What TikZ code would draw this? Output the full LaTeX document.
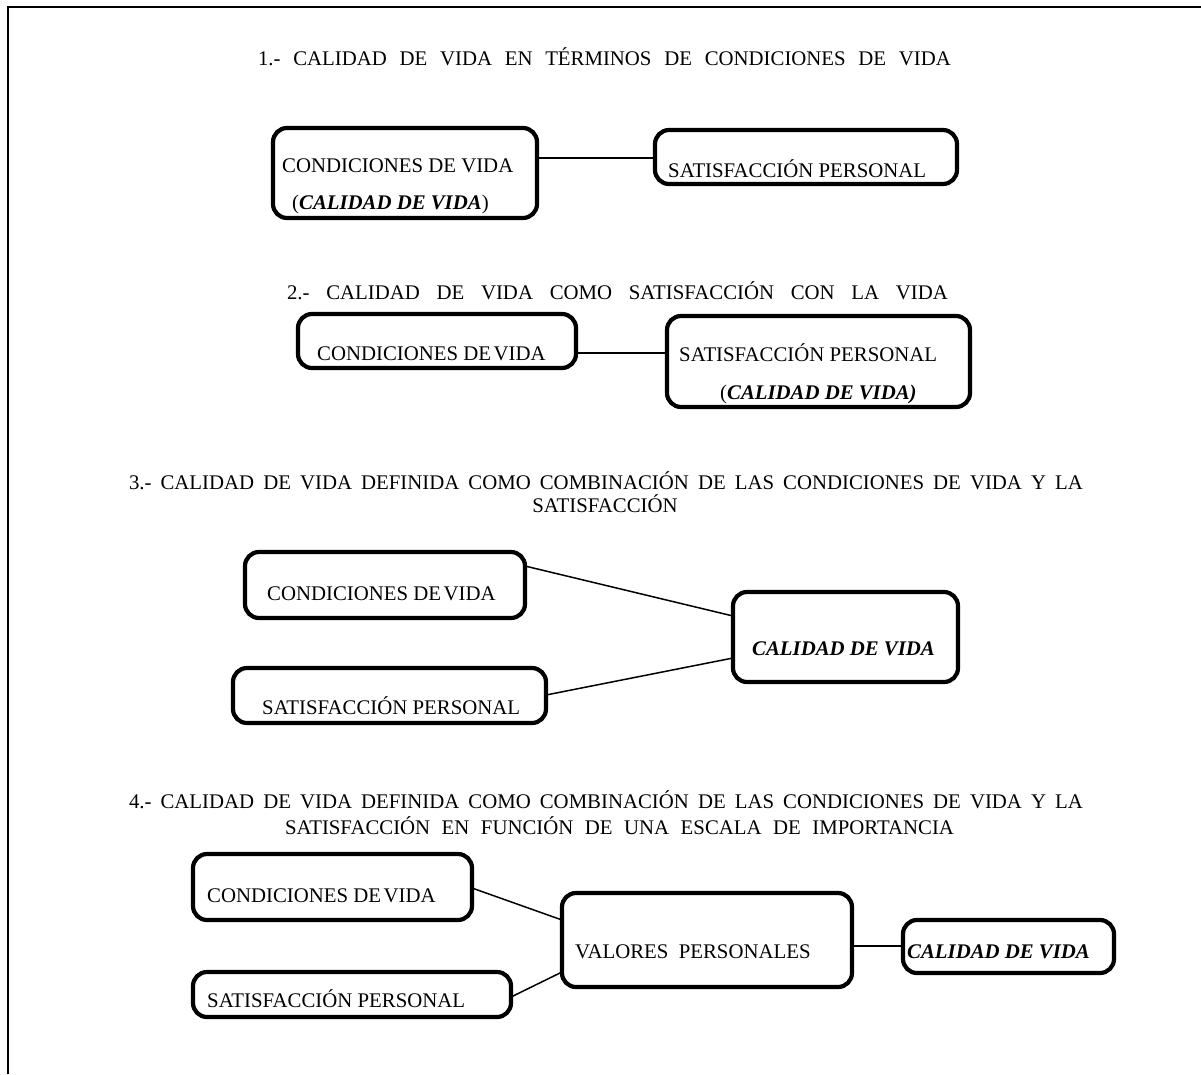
\documentclass[tikz,border=0pt]{standalone}
\usepackage{fontspec}
\setmainfont{Liberation Serif}
\newfontfamily\timesfont{Liberation Serif}
\newcommand\boxfont{\timesfont\fontsize{20.8pt}{25pt}\selectfont}
\newcommand\tsp{\hspace{2.5pt}}
\tikzset{
  frameline/.style={line width=2.5pt},
  box/.style={draw, line width=4.2pt, rounded corners=14pt, inner sep=0pt, outer sep=0pt},
  link/.style={line width=1.5pt},
  lbl/.style={anchor=base west, inner sep=0pt, font=\boxfont},
  head/.style={anchor=base, inner sep=0pt, font=\boxfont},
}
% rounded box given by its corners (x1,y1) and (x2,y2)
\newcommand\rbox[5]{%
  \node[box, minimum width={#4-#2}, minimum height={#5-#3}] (#1)
    at ({(#2+#4)/2},{(#3+#5)/2}) {};}
\begin{document}
\begin{tikzpicture}[x=1pt, y=-1pt]
\useasboundingbox (0,0) rectangle (1201,1074);

% open frame: top and left sides
\draw[frameline] (8,1074) -- (8,7) -- (1201,7);

% ---- 1 ----
\node[head] (h1) at (604.5,65)
  {\makebox[693pt][s]{1.- CALIDAD DE VIDA EN TÉRMINOS DE CONDICIONES DE VIDA}};
\rbox{b1a}{273}{128}{537}{218}
\node[lbl] (t1a) at (282,172) {CONDICIONES DE VIDA};
\node[lbl] (t1a2) at (292,209) {(\textbf{\textit{CALIDAD DE VIDA}})};
\rbox{b1b}{655}{130}{957}{184}
\node[lbl] (t1b) at (668,177) {SATISFACCIÓN PERSONAL};
\draw[link] (b1a.east |- 0,158) -- (b1b.west |- 0,158);

% ---- 2 ----
\node[head] (h2) at (617.5,299)
  {\makebox[661pt][s]{2.- CALIDAD DE VIDA COMO SATISFACCIÓN CON LA VIDA}};
\rbox{b2a}{298}{314}{576}{368}
\node[lbl] (t2a) at (317,360) {CONDICIONES DE\tsp VIDA};
\rbox{b2b}{667}{316}{970}{407}
\node[lbl] (t2b) at (679,361) {SATISFACCIÓN PERSONAL};
\node[lbl] (t2b2) at (720,399) {(\textbf{\textit{CALIDAD DE VIDA)}}};
\draw[link] (b2a.east |- 0,353) -- (b2b.west |- 0,353);

% ---- 3 ----
\node[head] (h3) at (606,489)
  {\makebox[954pt][s]{3.- CALIDAD DE VIDA DEFINIDA COMO COMBINACIÓN DE LAS CONDICIONES DE VIDA Y LA}};
\node[head] (h3b) at (605,512) {SATISFACCIÓN};
\rbox{b3a}{245}{552}{525}{618}
\node[lbl] (t3a) at (267,600) {CONDICIONES DE\tsp VIDA};
\rbox{b3b}{233}{668}{546}{723}
\node[lbl] (t3b) at (262,714) {SATISFACCIÓN PERSONAL};
\rbox{b3c}{733}{592}{958}{682}
\node[lbl] (t3c) at (752,655) {\textbf{\textit{CALIDAD DE VIDA}}};
\draw[link] (b3a.east |- 0,566) -- (b3c.west |- 0,616);
\draw[link] (b3b.east |- 0,695) -- (b3c.west |- 0,658);

% ---- 4 ----
\node[head] (h4) at (606,808)
  {\makebox[954pt][s]{4.- CALIDAD DE VIDA DEFINIDA COMO COMBINACIÓN DE LAS CONDICIONES DE VIDA Y LA}};
\node[head] (h4b) at (619.5,834)
  {\makebox[669pt][s]{SATISFACCIÓN EN FUNCIÓN DE UNA ESCALA DE IMPORTANCIA}};
\rbox{b4a}{193}{854}{472}{920}
\node[lbl] (t4a) at (207,902) {CONDICIONES DE\tsp VIDA};
\rbox{b4b}{193}{972}{511}{1017}
\node[lbl] (t4b) at (207,1007) {SATISFACCIÓN PERSONAL};
\rbox{b4c}{562}{893}{852}{987}
\node[lbl] (t4c) at (575,958) {VALORES\ \ PERSONALES};
\rbox{b4d}{903}{920}{1114}{973}
\node[lbl] (t4d) at (907,958) {\textbf{\textit{CALIDAD DE VIDA}}};
\draw[link] (b4a.east |- 0,888) -- (b4c.west |- 0,920);
\draw[link] (b4b.east |- 0,997) -- (b4c.west |- 0,972);
\draw[link] (b4c.east |- 0,946) -- (b4d.west |- 0,946);
\end{tikzpicture}
\end{document}
